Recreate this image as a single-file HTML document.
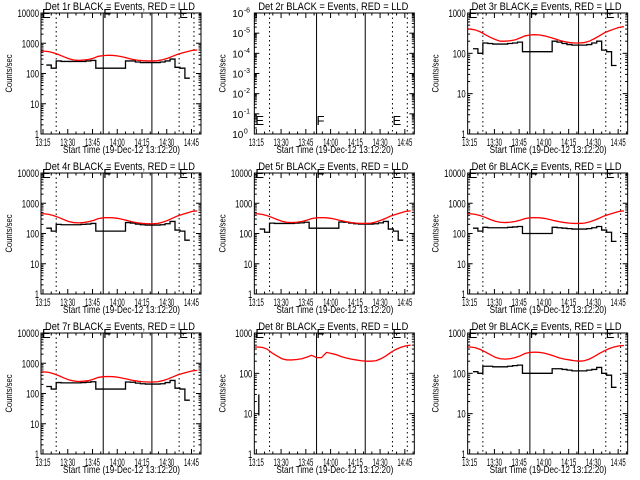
<!DOCTYPE html>
<html><head><meta charset="utf-8"><style>
html,body{margin:0;padding:0;background:#fff;}
svg{display:block;font-family:"Liberation Sans",sans-serif;}
</style></head><body>
<svg id="c" width="640" height="480" viewBox="0 0 640 480"></svg>
<script>
// minutes after 13:15
const times = [-1,2,5,8,11,14,17,20,23,26,29,32,35,38,41,44,47,50,53,56,59,62,65,68,71,74,77,80,83,86,89,92];
const decadesList = [4,6,3,4,4,4,4,3,3];
const red1 = [550,530,480,420,360,310,280,270,280,290,320,370,390,400,395,380,350,320,290,275,265,260,260,265,285,320,370,430,480,530,580,600];
const blk1 = [null,190,150,260,250,250,250,250,250,260,270,150,150,150,150,150,150,260,260,240,230,230,230,230,240,260,300,160,150,70,null,null];
const red2 = [];
const blk2 = [];
const red3 = [400,380,340,290,250,220,200,200,205,215,240,270,285,290,285,270,250,230,210,195,185,180,180,185,200,230,270,320,360,400,440,460];
const blk3 = [null,130,100,180,175,170,170,170,175,180,190,110,110,110,110,110,110,200,190,175,165,160,160,160,165,180,200,120,110,50,null,null];
const red4 = [450,430,390,340,290,250,230,225,230,245,270,310,330,335,330,315,290,265,240,225,215,210,210,215,235,270,320,380,430,480,540,560];
const blk4 = [null,150,120,200,195,195,195,195,200,205,215,120,120,120,120,120,120,230,220,205,195,190,190,190,195,210,250,130,120,60,null,null];
const red5 = [450,430,390,340,290,255,235,230,235,250,275,310,330,335,330,315,290,265,245,230,220,215,215,220,240,275,320,380,430,480,540,560];
const blk5 = [null,140,110,220,215,215,215,215,220,225,235,150,150,150,150,150,150,240,235,220,210,205,205,205,210,225,250,140,120,60,null,null];
const red6 = [450,430,390,340,290,255,235,230,235,250,275,310,330,335,330,315,290,265,245,230,220,215,215,220,240,275,320,380,430,480,540,560];
const blk6 = [null,150,120,160,155,155,155,155,160,165,170,100,100,100,100,100,100,160,155,150,145,140,140,140,145,155,170,130,110,55,null,null];
const red7 = [520,500,450,390,330,285,260,250,255,265,295,340,360,365,360,345,320,295,270,255,245,240,240,245,265,300,350,410,460,510,560,580];
const blk7 = [null,170,140,230,225,225,225,225,230,235,245,140,140,140,140,140,140,240,235,220,210,205,205,205,210,230,270,150,140,60,null,null];
const red8 = [450,440,400,320,270,230,215,215,220,230,250,280,245,245,330,310,290,260,240,225,215,205,200,200,205,230,270,330,390,440,480,500];
const blk8 = [];
const blk8Times = [1.5,1.5];
const blk8Vals = [30,9];
const red9 = [450,430,390,340,290,250,230,225,230,245,270,310,330,335,330,315,290,265,240,225,215,205,200,205,225,260,310,360,410,450,480,490];
const blk9 = [null,110,100,150,150,145,145,145,150,155,160,100,100,100,100,100,100,130,130,125,120,115,115,115,120,125,140,100,90,45,null,null];
const reds = [red1,red2,red3,red4,red5,red6,red7,red8,red9];
const blks = [blk1,blk2,blk3,blk4,blk5,blk6,blk7,blk8,blk9];
const tickTimes = [0,15,30,45,60,75,90];
const tickLabels = ["13:15","13:30","13:45","14:00","14:15","14:30","14:45"];
const markerTimes = [8,36.5,66,82.5,91.5];
const markerSolid = [false,true,true,false,false];
const letterTimes = [-1,36.5,82.5];
const letterText = ["E","F","E"];

const NS="http://www.w3.org/2000/svg";
const svg=document.getElementById('c');
function mk(tag,attrs,parent){const e=document.createElementNS(NS,tag);for(const k in attrs)e.setAttribute(k,attrs[k]);(parent||svg).appendChild(e);return e;}

for(let p=0;p<9;p++){
  const col=p%3,row=Math.floor(p/3);
  const ox=col*213.33,oy=row*160;
  const L=ox+41,R=ox+201,T=oy+13,B=oy+134;
  const nd=decadesList[p];
  const xs=t=>L+2+t*1.65;
  const ys=v=>B-Math.log10(v)/nd*(B-T);
  const g=mk('g',{});
  
  
  const title=mk('text',{x:ox+45,y:oy+10,'font-size':11,textLength:150,lengthAdjust:'spacingAndGlyphs'},g);
  title.textContent='Det '+(p+1)+'r BLACK = Events, RED = LLD';
  
  
  const yl=mk('text',{x:0,y:0,'font-size':9,'text-anchor':'middle',textLength:38,lengthAdjust:'spacingAndGlyphs',transform:`translate(${ox+12},${(T+B)/2}) rotate(-90)`},g);
  yl.textContent='Counts/sec';
  
  
  const xl=mk('text',{x:ox+63,y:oy+153,'font-size':10.5,textLength:117,lengthAdjust:'spacingAndGlyphs'},g);
  xl.textContent='Start Time (19-Dec-12 13:12:20)';
  
  
  for(let m=0;m<=95;m+=5){
    const x=xs(m);if(x>R)break;
    const len=(m%15===0)?5:2.5;
    mk('line',{x1:x,x2:x,y1:B,y2:B-len,stroke:'#000','stroke-width':1},g);
    mk('line',{x1:x,x2:x,y1:T,y2:T+len,stroke:'#000','stroke-width':1},g);
  }
  tickTimes.forEach((t,i)=>{
    const tl=mk('text',{x:xs(t)-7.5,y:B+12,'font-size':11,textLength:15,lengthAdjust:'spacingAndGlyphs'},g);
    tl.textContent=tickLabels[i];
    
    
  });
  for(let d=0;d<nd;d++){
    for(let k=1;k<=9;k++){
      const y=ys(Math.pow(10,d)*k);
      const len=k===1?5:2.5;
      mk('line',{x1:L,x2:L+len,y1:y,y2:y,stroke:'#000','stroke-width':1},g);
      mk('line',{x1:R,x2:R-len,y1:y,y2:y,stroke:'#000','stroke-width':1},g);
    }
  }
  for(let d=0;d<=nd;d++){
    const y=ys(Math.pow(10,d));
    let t;
    if(p===1){
      t=mk('text',{x:L-11,y:y+4,'font-size':10,'text-anchor':'end'},g);
      t.textContent='10';
      const s=mk('text',{x:L-10.5,y:y-0.5,'font-size':7},g);
      s.textContent=d===0?'0':'-'+d;
      
      
    } else {
      const str=String(Math.pow(10,d));
      const w=str.length*4.3;
      t=mk('text',{x:L-2-w,y:y+4,'font-size':11,textLength:w,lengthAdjust:'spacingAndGlyphs'},g);
      t.textContent=str;
    }
    
    
  }
  markerTimes.forEach((t,i)=>{
    const ln=mk('line',{x1:xs(t),x2:xs(t),y1:T,y2:B,stroke:'#000','stroke-width':1,'stroke-dasharray':markerSolid[i]?'':'1.5,3'},g);
    
    
  });
  letterTimes.forEach((t,i)=>{
    const lx=Math.max(xs(t),L+1);
    const ly=p===1?B-9:T+5;
    const lt=mk('text',{x:lx,y:ly,'font-size':13},g);
    lt.textContent=letterText[i];
    
    
  });
  function step(vals,color,name){
    let pts=[];
    const flush=()=>{if(pts.length>1){const pl=mk('polyline',{points:pts.join(' '),fill:'none',stroke:color,'stroke-width':1.3},g);
      
      }pts=[];};
    for(let i=0;i<vals.length;i++){
      const v=vals[i];
      if(v==null){flush();continue;}
      const x0=Math.max(xs(times[i]),L),x1=Math.min(i+1<times.length?xs(times[i+1]):R,R);
      pts.push(x0+','+ys(v));pts.push(x1+','+ys(v));
    }
    flush();
  }
  function smooth(vals,color,name){
    if(!vals.length)return;
    const pts=vals.map((v,i)=>Math.min(Math.max(xs(times[i]+1.5),L),R)+','+ys(v));
    pts.unshift(L+','+ys(vals[0]));
    const pl=mk('polyline',{points:pts.join(' '),fill:'none',stroke:color,'stroke-width':1.3},g);
    
    
  }
  step(blks[p],'#000','events-series');
  smooth(reds[p],'#ff0000','lld-series');
  if(p===7){
    const sp=mk('line',{x1:xs(blk8Times[0]),x2:xs(blk8Times[1]),y1:ys(blk8Vals[0]),y2:ys(blk8Vals[1]),stroke:'#000','stroke-width':1.3},g);
    
    
  }
  const box=mk('rect',{x:L,y:T,width:R-L,height:B-T,fill:'none',stroke:'#000','stroke-width':1},g);
  
  
}
</script>
</body></html>
